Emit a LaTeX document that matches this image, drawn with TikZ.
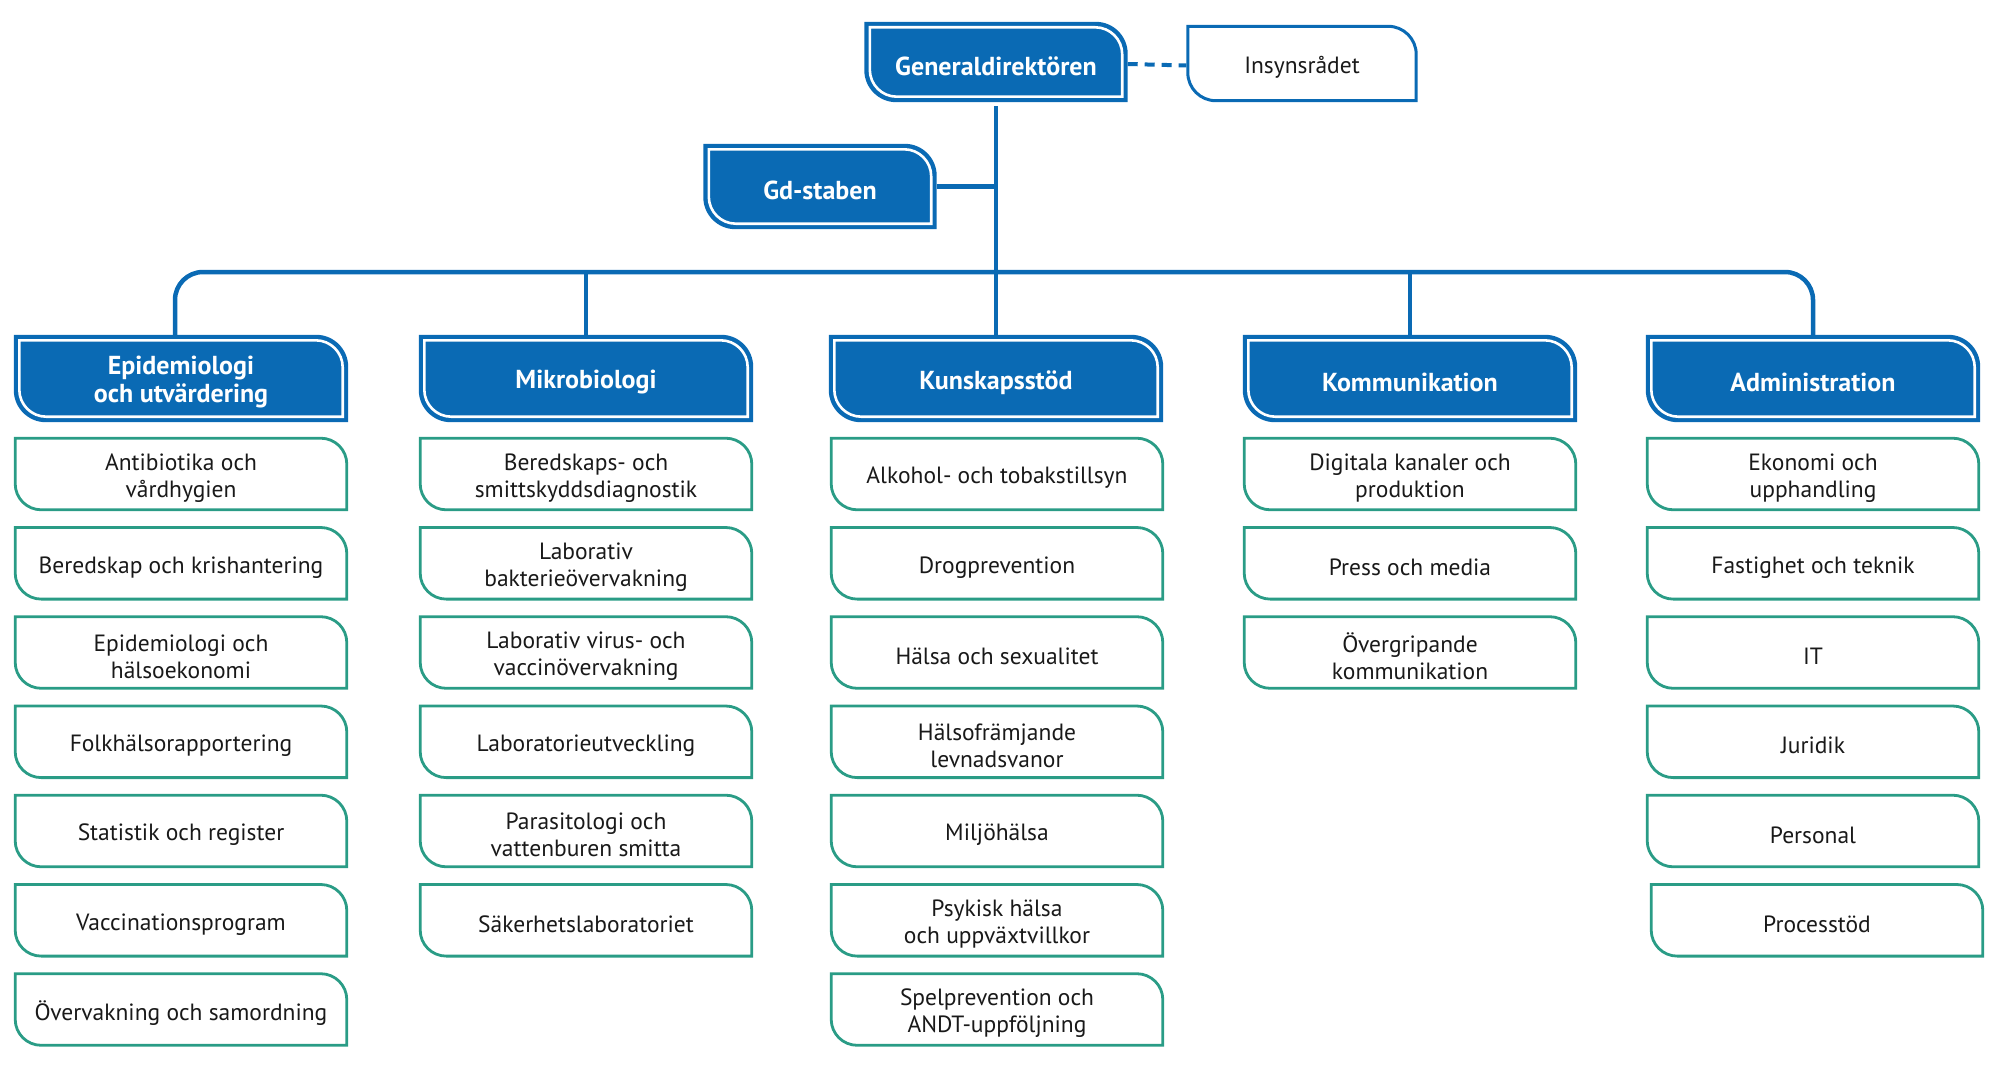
\documentclass[tikz,border=0pt]{standalone}
\usepackage{fontspec}
\setmainfont{PT Sans}
\usetikzlibrary{backgrounds}
\definecolor{fhblue}{HTML}{0A6AB4}
\definecolor{fhteal}{HTML}{2A9C86}
% shape is drawn 4pt above the node centre so that the text sits a little low, as in the reference
\newcommand{\leafpath}[3]{([shift={(#2,-#2+4pt)}]#1.north west) -- ([shift={(-#2-#3,-#2+4pt)}]#1.north east) arc[start angle=90,end angle=0,radius=#3] -- ([shift={(-#2,#2+4pt)}]#1.south east) -- ([shift={(#2+#3,#2+4pt)}]#1.south west) arc[start angle=270,end angle=180,radius=#3] -- cycle}
\begin{document}
\begin{tikzpicture}[x=1pt,y=1pt,
  hdr/.style={minimum width=334pt,minimum height=87pt,inner sep=0pt,align=center,text=white,font=\fontsize{26}{28}\selectfont\bfseries},
  subbox/.style={minimum width=334pt,minimum height=74pt,inner sep=0pt,align=center,text=black!90,font=\fontsize{23.5}{27}\selectfont},
  conn/.style={draw=fhblue,line width=4.5pt}]
\useasboundingbox (0,0) rectangle (1999,-1070);

% top
\node[hdr,minimum width=263pt,minimum height=80pt] (gd) at (996,-66) {Generaldirektören};
\node[subbox,minimum width=231pt,minimum height=77pt] (ins) at (1302,-67.5) {Insynsrådet};
\node[hdr,minimum width=233pt,minimum height=85pt] (gds) at (820,-190.5) {Gd-staben};

% headers
\node[hdr] (h1) at (181,-382.5) {Epidemiologi\\och utvärdering};
\node[hdr] (h2) at (586,-382.5) {Mikrobiologi};
\node[hdr] (h3) at (996,-382.5) {Kunskapsstöd};
\node[hdr] (h4) at (1410,-382.5) {Kommunikation};
\node[hdr] (h5) at (1813,-382.5) {Administration};

% column 1
\node[subbox] (a1) at (181,-478) {Antibiotika och\\vårdhygien};
\node[subbox] (a2) at (181,-567.3) {Beredskap och krishantering};
\node[subbox] (a3) at (181,-656.5) {Epidemiologi och\\hälsoekonomi};
\node[subbox] (a4) at (181,-745.8) {Folkhälsorapportering};
\node[subbox] (a5) at (181,-835) {Statistik och register};
\node[subbox] (a6) at (181,-924.3) {Vaccinationsprogram};
\node[subbox] (a7) at (181,-1013.5) {Övervakning och samordning};

% column 2
\node[subbox] (b1) at (586,-478) {Beredskaps- och\\smittskyddsdiagnostik};
\node[subbox] (b2) at (586,-567.3) {Laborativ\\bakterieövervakning};
\node[subbox] (b3) at (586,-656.5) {Laborativ virus- och\\vaccinövervakning};
\node[subbox] (b4) at (586,-745.8) {Laboratorieutveckling};
\node[subbox] (b5) at (586,-835) {Parasitologi och\\vattenburen smitta};
\node[subbox] (b6) at (586,-924.3) {Säkerhetslaboratoriet};

% column 3
\node[subbox] (c1) at (997,-478) {Alkohol- och tobakstillsyn};
\node[subbox] (c2) at (997,-567.3) {Drogprevention};
\node[subbox] (c3) at (997,-656.5) {Hälsa och sexualitet};
\node[subbox] (c4) at (997,-745.8) {Hälsofrämjande\\levnadsvanor};
\node[subbox] (c5) at (997,-835) {Miljöhälsa};
\node[subbox] (c6) at (997,-924.3) {Psykisk hälsa\\och uppväxtvillkor};
\node[subbox] (c7) at (997,-1013.5) {Spelprevention och\\ANDT-uppföljning};

% column 4
\node[subbox] (d1) at (1410,-478) {Digitala kanaler och\\produktion};
\node[subbox] (d2) at (1410,-567.3) {Press och media};
\node[subbox] (d3) at (1410,-656.5) {Övergripande\\kommunikation};

% column 5
\node[subbox] (e1) at (1813,-478) {Ekonomi och\\upphandling};
\node[subbox] (e2) at (1813,-567.3) {Fastighet och teknik};
\node[subbox] (e3) at (1813,-656.5) {IT};
\node[subbox] (e4) at (1813,-745.8) {Juridik};
\node[subbox] (e5) at (1813,-835) {Personal};
\node[subbox] (e6) at (1817,-924.3) {Processtöd};

\coordinate (bar) at (996,-272);

\begin{scope}[on background layer]
  % connectors
  \draw[conn] (gd.south) -- (h3.north);
  \draw[conn] ([yshift=4pt]gds.east) -- ([yshift=4pt]gds.east -| gd.south);
  \draw[conn,rounded corners=28pt] ([xshift=-6pt]h1.north) |- (bar) -| (h5.north);
  \draw[conn] (h2.north) -- (h2.north |- bar);
  \draw[conn] (h4.north) -- (h4.north |- bar);
  \draw[conn,line width=4pt,dash pattern=on 10pt off 7pt] ([yshift=2pt]gd.east) -- ([yshift=2pt]ins.west);
  % blue boxes
  \foreach \n in {gd,gds,h1,h2,h3,h4,h5}{
    \fill[fhblue] \leafpath{\n}{0pt}{32pt};
    \draw[white,line width=2.6pt] \leafpath{\n}{5.5pt}{27pt};
  }
  % white boxes
  \draw[fhblue,fill=white,line width=3pt] \leafpath{ins}{1.5pt}{28pt};
  \foreach \n in {a1,a2,a3,a4,a5,a6,a7,b1,b2,b3,b4,b5,b6,c1,c2,c3,c4,c5,c6,c7,d1,d2,d3,e1,e2,e3,e4,e5,e6}{
    \draw[fhteal,fill=white,line width=2.8pt] \leafpath{\n}{1.4pt}{26pt};
  }
\end{scope}
\end{tikzpicture}
\end{document}
